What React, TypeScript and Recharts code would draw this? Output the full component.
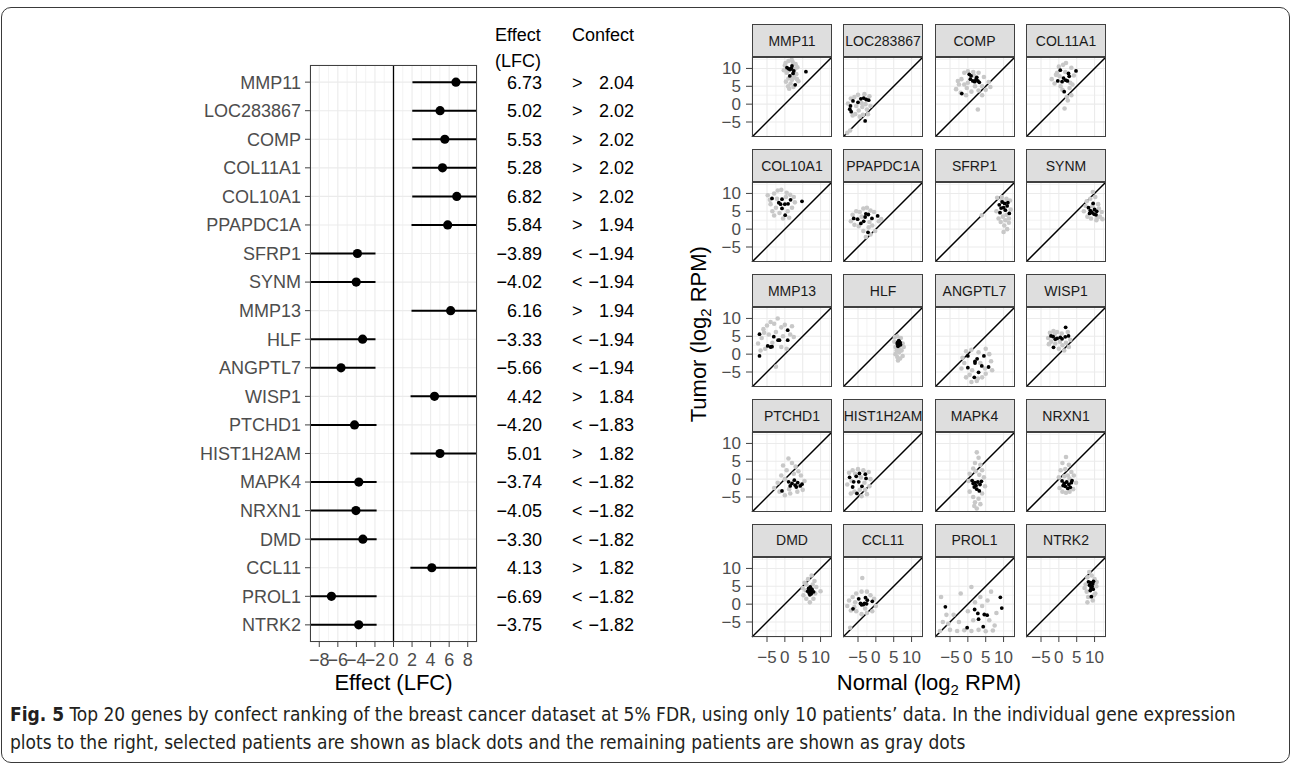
import React from 'react';
import {
  ScatterChart,
  Scatter,
  XAxis,
  YAxis,
  CartesianGrid,
  ReferenceLine,
} from 'recharts';

const FONT = '"Liberation Sans", Arial, Helvetica, sans-serif';
const AXIS_GREY = '#4d4d4d';
const BORDER = '#404040';

// forest plot: effect and confect per gene
const genes = [
  'MMP11', 'LOC283867', 'COMP', 'COL11A1', 'COL10A1', 'PPAPDC1A', 'SFRP1', 'SYNM', 'MMP13', 'HLF',
  'ANGPTL7', 'WISP1', 'PTCHD1', 'HIST1H2AM', 'MAPK4', 'NRXN1', 'DMD', 'CCL11', 'PROL1', 'NTRK2',
];
const effects = [
  6.73, 5.02, 5.53, 5.28, 6.82, 5.84, -3.89, -4.02, 6.16, -3.33,
  -5.66, 4.42, -4.2, 5.01, -3.74, -4.05, -3.3, 4.13, -6.69, -3.75,
];
const confects = [
  2.04, 2.02, 2.02, 2.02, 2.02, 1.94, -1.94, -1.94, 1.94, -1.94,
  -1.94, 1.84, -1.83, 1.82, -1.82, -1.82, -1.82, 1.82, -1.82, -1.82,
];
const effectTicks = [-8, -6, -4, -2, 0, 2, 4, 6, 8];
const effectMinorTicks = [-9, -7, -5, -3, -1, 1, 3, 5, 7, 9];
const EFFECT_LIM = 9;

// expression panels (normal vs tumor, log2 RPM)
const rpmTicks = [-5, 0, 5, 10];
const rpmMinorTicks = [-7.5, -2.5, 2.5, 7.5, 12.5];
const RPM_MIN = -9.2;
const RPM_MAX = 13.2;

type Pt = [number, number];

const mmp11Black: Pt[] = [[0.6, 10.2], [1.5, 9.7], [2.0, 10.7], [2.5, 9.3], [1.4, 7.9], [5.9, 9.1], [2.9, 5.4], [1.8, 10.0], [1.1, 9.9], [2.3, 8.6]];
const mmp11Gray: Pt[] = [[0.2, 11.5], [1.0, 12.1], [2.2, 11.8], [3.0, 11.2], [0.0, 10.8], [3.5, 10.3], [-0.3, 9.5], [0.5, 8.8], [3.2, 8.4], [1.0, 7.2], [2.0, 6.8], [2.6, 7.5], [0.3, 6.3], [1.6, 5.8], [2.4, 4.8], [1.2, 4.3], [3.8, 6.4], [0.8, 9.2], [2.8, 9.9], [1.9, 12.4], [0.9, 5.0], [3.4, 7.0]];
const loc283867Black: Pt[] = [[-6.4, 0.9], [-7.1, -0.5], [-6.9, -2.1], [-4.2, 1.5], [-3.4, 1.7], [-2.7, 1.3], [-2.0, 1.1], [-7.3, -1.4], [-3.0, -4.7], [-5.0, 0.5]];
const loc283867Gray: Pt[] = [[-7.8, 0.2], [-6.0, 2.0], [-5.5, -0.5], [-4.8, -1.8], [-3.8, -0.8], [-2.5, -1.5], [-1.8, 2.2], [-3.2, 2.8], [-5.8, -2.8], [-4.5, -3.5], [-3.6, -3.0], [-6.5, -3.2], [-2.2, -2.8], [-4.0, 0.3], [-1.5, -0.5], [-7.0, 1.6], [-8.0, -8.0], [-7.2, -7.4], [-5.0, 2.6], [-2.9, 0.0]];
const compBlack: Pt[] = [[0.4, 8.35], [1.4, 6.5], [2.3, 7.0], [2.8, 6.5], [-1.7, 2.95], [0.9, 7.9], [1.9, 6.3], [3.2, 6.1], [0.7, 7.0], [2.5, 7.5]];
const compGray: Pt[] = [[-3.3, 4.2], [-2.5, 5.5], [-1.8, 7.0], [-1.0, 8.8], [0.0, 9.2], [1.5, 9.0], [3.0, 8.8], [4.5, 7.6], [5.8, 6.2], [6.3, 4.8], [4.0, 5.0], [3.0, 3.8], [1.0, 3.5], [-0.5, 2.5], [-2.0, 3.2], [-1.0, 5.5], [0.0, 6.0], [2.0, 5.0], [4.0, 2.5], [5.0, 4.0], [2.8, -1.5], [-0.3, 4.5], [1.7, 8.0], [-2.8, 6.5]];
const col11a1Black: Pt[] = [[0.4, 9.5], [2.7, 8.6], [4.8, 9.3], [-0.3, 6.5], [1.9, 6.7], [2.4, 6.5], [1.5, 3.5], [2.9, 7.8], [0.9, 6.3], [1.3, 7.3]];
const col11a1Gray: Pt[] = [[-2.0, 7.0], [-0.8, 8.2], [0.0, 10.5], [1.2, 11.0], [2.0, 11.5], [3.5, 10.2], [4.2, 8.0], [3.8, 5.5], [3.0, 4.5], [0.5, 5.0], [-0.5, 8.8], [1.0, 4.0], [2.2, 2.0], [3.5, 2.5], [2.5, 1.0], [1.6, -1.2], [0.2, 7.8], [3.2, 6.0], [-1.2, 5.8], [1.8, 9.0]];
const col10a1Black: Pt[] = [[-3.6, 8.6], [-1.7, 7.4], [-0.8, 8.4], [0.0, 7.0], [4.8, 7.8], [-0.8, 5.8], [0.1, 3.9], [-1.2, 7.0], [0.9, 7.1], [1.6, 8.2]];
const col10a1Gray: Pt[] = [[-4.8, 9.5], [-4.0, 7.0], [-3.0, 10.0], [-2.0, 10.8], [-1.0, 11.0], [0.5, 10.2], [1.5, 9.6], [2.5, 9.0], [-2.5, 6.0], [-3.5, 5.0], [-1.5, 4.5], [0.8, 5.0], [2.0, 6.0], [-0.5, 3.0], [1.2, 3.2], [2.8, 7.5], [-2.2, 8.5], [-4.2, 8.2], [0.3, 9.0], [-3.0, 3.8]];
const ppapdc1aBlack: Pt[] = [[-6.2, 3.0], [-5.1, 2.8], [-4.2, 1.6], [-3.4, 2.2], [-2.8, 4.3], [-2.1, 4.1], [-1.1, 3.0], [0.5, 3.7], [-2.2, -0.9], [-3.0, 3.4]];
const ppapdc1aGray: Pt[] = [[-7.0, 2.2], [-6.5, 4.0], [-5.5, 5.0], [-4.5, 4.8], [-3.5, 5.8], [-2.5, 6.0], [-1.5, 5.2], [-0.5, 4.8], [0.8, 2.2], [1.5, 2.8], [-1.0, 1.0], [-2.0, 0.5], [-3.5, -0.5], [-1.5, -1.5], [-2.8, -2.2], [-4.8, 0.8], [-6.0, 1.2], [-4.0, 3.5], [-0.2, -0.5], [-1.8, 2.0]];
const sfrp1Black: Pt[] = [[8.8, 6.8], [9.6, 7.6], [10.3, 7.2], [11.0, 6.5], [9.3, 5.9], [10.5, 5.3], [9.0, 4.6], [11.6, 4.4], [10.0, 6.0], [11.2, 7.4]];
const sfrp1Gray: Pt[] = [[8.2, 8.8], [9.5, 9.0], [10.8, 8.5], [11.8, 8.0], [8.0, 5.0], [9.8, 3.5], [10.5, 2.5], [11.5, 3.0], [9.2, 2.0], [10.2, 1.0], [11.0, 0.0], [10.0, -0.8], [8.6, 3.0], [12.0, 5.5], [3.9, 3.9], [9.5, 8.0], [10.8, 4.0], [11.5, 1.8]];
const synmBlack: Pt[] = [[8.3, 6.0], [8.8, 5.2], [9.3, 4.6], [9.9, 4.2], [10.4, 4.0], [10.6, 5.0], [9.6, 7.2], [9.0, 4.9], [10.0, 5.5], [8.6, 4.4]];
const synmGray: Pt[] = [[9.5, 10.4], [8.8, 8.5], [10.2, 9.0], [7.5, 6.5], [7.0, 5.0], [11.0, 7.0], [11.5, 3.5], [12.2, 2.8], [10.5, 2.5], [9.0, 3.0], [8.0, 3.5], [11.2, 5.8], [7.8, 7.8], [10.8, 3.2], [9.4, 6.4], [12.0, 4.8]];
const mmp13Black: Pt[] = [[-7.1, 5.6], [-7.1, -0.5], [-4.8, 2.3], [-4.0, 2.0], [-3.1, 4.9], [-1.9, 3.9], [-1.5, 3.9], [0.8, 6.7], [0.8, 3.9], [-3.6, 2.1]];
const mmp13Gray: Pt[] = [[-7.5, 3.0], [-6.5, 4.5], [-6.0, 7.0], [-5.0, 8.0], [-4.0, 9.0], [-3.0, 8.5], [-2.0, 10.0], [-1.0, 7.5], [0.0, 8.2], [1.5, 5.5], [2.5, 4.8], [-5.5, 1.5], [-4.5, 5.5], [-2.5, 6.2], [-1.0, 2.0], [0.5, 1.5], [-6.8, 1.0], [-3.5, 3.2], [-2.5, -3.5], [2.0, 7.8], [-5.8, 6.0], [-0.5, 5.0]];
const hlfBlack: Pt[] = [[6.1, 3.3], [6.4, 3.0], [6.7, 2.7], [6.3, 2.5], [6.6, 3.5], [6.0, 2.9], [6.8, 3.2], [6.4, 3.8], [6.2, 2.2], [6.9, 2.6]];
const hlfGray: Pt[] = [[5.3, 4.8], [6.0, 5.0], [7.0, 4.5], [7.5, 3.0], [5.5, 2.0], [5.8, 1.0], [6.5, 0.5], [7.2, 1.0], [5.5, 0.0], [6.0, -0.8], [6.8, -1.2], [7.5, -0.5], [6.2, -1.8], [7.8, 2.0], [5.2, 3.5], [6.6, 1.5]];
const angptl7Black: Pt[] = [[0.0, -0.5], [2.0, -2.0], [2.0, -2.5], [4.5, -0.5], [3.9, -3.3], [5.8, -3.6], [3.0, -5.1], [1.8, -6.5], [0.0, -3.8], [2.6, -1.3]];
const angptl7Gray: Pt[] = [[-1.5, -1.0], [-0.5, 0.8], [1.0, 1.2], [3.0, 0.5], [5.0, 1.5], [6.0, 0.0], [6.5, -2.0], [6.8, -4.5], [5.0, -5.5], [4.0, -6.5], [2.5, -7.5], [1.0, -7.8], [-0.5, -6.5], [-1.8, -4.0], [1.2, -4.5], [3.5, -2.5], [-1.0, -2.5], [4.8, -4.0], [0.5, -5.8], [2.8, -6.8]];
const wisp1Black: Pt[] = [[-2.2, 5.1], [-1.0, 4.2], [0.4, 4.7], [1.8, 4.85], [2.7, 5.1], [1.9, 7.5], [-1.5, 1.9], [-1.6, 4.9], [-0.5, 4.4], [0.9, 4.3]];
const wisp1Gray: Pt[] = [[-3.0, 4.5], [-2.5, 6.0], [-1.5, 6.5], [-0.5, 6.2], [0.8, 5.8], [2.5, 6.2], [3.2, 4.0], [2.0, 3.2], [1.0, 2.5], [0.0, 1.5], [-1.0, 3.0], [-2.2, 3.5], [-2.8, 2.8], [0.3, 3.5], [2.8, 2.0], [1.5, 1.0], [-1.2, 5.5]];
const ptchd1Black: Pt[] = [[-0.8, -3.3], [1.05, -0.75], [2.0, -1.2], [2.9, -1.7], [3.6, -1.0], [4.3, -1.9], [2.65, -0.3], [1.5, -1.9], [4.8, -1.4], [3.2, -2.2]];
const ptchd1Gray: Pt[] = [[1.0, 5.8], [2.0, 4.5], [3.0, 3.5], [0.5, 2.5], [-1.0, 1.0], [-2.0, -1.0], [-3.0, -2.5], [-1.5, -3.5], [0.0, -4.5], [1.5, -4.0], [3.5, -3.5], [5.0, -3.0], [5.5, -0.5], [4.5, 1.0], [2.5, 1.5], [0.0, 0.0], [1.2, -2.8], [3.8, 2.2], [-0.5, 3.8]];
const hist1h2amBlack: Pt[] = [[-7.35, 0.5], [-6.2, -0.75], [-6.5, -2.2], [-4.6, 1.6], [-3.9, -2.0], [-2.95, 1.4], [-2.75, 0.2], [-5.3, -4.0], [-4.8, -0.75], [-5.5, 0.8]];
const hist1h2amGray: Pt[] = [[-8.0, -1.5], [-7.5, 1.8], [-6.5, 2.5], [-5.0, 2.8], [-3.5, 2.5], [-2.0, 2.0], [-1.5, 0.0], [-1.8, -2.0], [-3.0, -3.0], [-4.5, -3.0], [-6.0, -3.5], [-7.0, -4.0], [-4.0, -4.8], [-3.2, -1.0], [-6.8, -0.5], [-5.8, 1.5], [-2.5, -4.2], [-4.2, 0.5]];
const mapk4Black: Pt[] = [[1.2, -0.4], [2.0, -1.0], [2.8, -0.8], [3.4, -1.5], [1.8, -2.2], [2.5, -2.8], [3.2, -3.3], [1.5, -1.2], [3.8, -0.6], [2.3, -1.8]];
const mapk4Gray: Pt[] = [[2.5, 7.5], [3.0, 6.0], [2.0, 4.5], [3.5, 4.0], [1.5, 3.0], [4.0, 2.5], [0.5, 1.5], [4.5, 0.5], [0.2, -0.5], [4.8, -2.0], [0.5, -3.5], [4.0, -4.0], [1.5, -5.0], [3.0, -5.5], [2.0, -6.5], [3.5, -7.0], [2.5, -8.2], [1.8, -7.5], [3.2, 1.2], [2.2, 2.2]];
const nrxn1Black: Pt[] = [[0.9, -0.5], [1.5, -1.2], [2.2, -0.8], [2.8, -1.5], [3.5, -1.0], [1.8, -2.0], [2.5, -2.6], [3.2, -2.3], [1.2, -1.8], [3.7, -0.4]];
const nrxn1Gray: Pt[] = [[2.0, 6.2], [1.0, 4.5], [2.8, 4.0], [0.5, 2.5], [1.8, 2.8], [3.5, 2.0], [4.2, 1.0], [0.0, 0.5], [4.8, -1.0], [0.2, -2.5], [4.0, -2.8], [1.0, -3.5], [2.0, -3.8], [3.0, -3.5], [2.5, 1.0], [1.5, 0.8], [3.0, 0.2]];
const dmdBlack: Pt[] = [[6.65, 4.4], [7.3, 3.6], [8.05, 3.45], [7.0, 2.6], [6.4, 3.6], [7.1, 4.8], [7.6, 4.2], [6.8, 3.1], [7.4, 2.9], [6.9, 4.0]];
const dmdGray: Pt[] = [[5.5, 6.0], [6.5, 7.0], [7.5, 8.0], [8.3, 6.5], [5.0, 4.5], [5.2, 2.5], [6.0, 1.5], [7.0, 0.5], [8.0, 1.5], [8.5, 3.0], [10.0, 3.6], [6.0, 5.5], [7.8, 5.5], [5.8, 3.8], [8.8, 4.8]];
const ccl11Black: Pt[] = [[-6.4, -1.3], [-4.8, 1.5], [-4.3, 0.2], [-3.5, -0.1], [-2.9, 1.8], [-2.6, 0.1], [-1.0, 0.8], [-3.2, 0.2], [-2.4, 1.1], [-4.0, -0.2]];
const ccl11Gray: Pt[] = [[-8.0, -0.5], [-7.5, 1.0], [-6.5, 2.0], [-5.5, 3.0], [-4.0, 3.5], [-2.5, 3.5], [-1.5, 2.5], [-0.5, 1.5], [0.0, -0.5], [-1.0, -2.0], [-2.5, -2.5], [-4.0, -2.8], [-5.5, -2.0], [-7.0, -1.8], [-3.8, 7.3], [-7.2, -6.6], [-5.8, 0.5], [-3.0, -1.2], [-6.0, -0.8]];
const prol1Black: Pt[] = [[-6.3, -0.75], [-0.2, -6.6], [1.9, -1.5], [2.8, -2.6], [4.6, -2.9], [5.4, -3.1], [3.0, -4.2], [4.3, -6.3], [9.1, 1.9], [9.5, -1.1]];
const prol1Gray: Pt[] = [[-7.5, 2.0], [-6.0, -3.0], [-7.0, -5.0], [-7.8, -7.5], [-5.0, -7.2], [-3.0, -7.5], [-1.0, -7.3], [1.0, -7.5], [3.0, -7.2], [5.0, -7.6], [7.0, -7.4], [-4.0, -3.0], [-2.0, 3.0], [0.0, -2.0], [1.0, 4.8], [2.0, 0.5], [3.5, 2.0], [4.0, -0.5], [5.5, 1.0], [6.0, -4.5], [7.5, -6.0], [8.0, -2.5], [6.5, 3.5], [-2.5, -5.0], [1.5, -4.5], [-5.5, -5.5]];
const ntrk2Black: Pt[] = [[8.3, 6.25], [9.7, 6.4], [9.3, 5.0], [8.6, 5.3], [8.8, 3.8], [9.1, 2.1], [9.5, 5.7], [9.0, 4.5], [8.9, 6.0], [9.6, 4.2]];
const ntrk2Gray: Pt[] = [[8.5, 9.0], [9.2, 8.0], [8.0, 7.5], [10.0, 7.0], [7.5, 5.5], [10.5, 5.0], [7.8, 3.5], [10.2, 3.0], [8.2, 2.0], [9.5, 1.0], [8.0, 0.5], [10.6, 6.2], [7.2, 4.5], [9.8, 2.5]];

const facetBlack = [
  mmp11Black, loc283867Black, compBlack, col11a1Black, col10a1Black, ppapdc1aBlack, sfrp1Black, synmBlack,
  mmp13Black, hlfBlack, angptl7Black, wisp1Black, ptchd1Black, hist1h2amBlack, mapk4Black, nrxn1Black,
  dmdBlack, ccl11Black, prol1Black, ntrk2Black,
];
const facetGray = [
  mmp11Gray, loc283867Gray, compGray, col11a1Gray, col10a1Gray, ppapdc1aGray, sfrp1Gray, synmGray,
  mmp13Gray, hlfGray, angptl7Gray, wisp1Gray, ptchd1Gray, hist1h2amGray, mapk4Gray, nrxn1Gray,
  dmdGray, ccl11Gray, prol1Gray, ntrk2Gray,
];

// layout of the facet grid
const COL_X = [752, 843, 934.5, 1026];
const ROW_Y = [24.3, 149.3, 274.3, 399, 523.5];
const STRIP_H = 33;
const PANEL = 80;

const withMinus = (v: number | string) => String(v).replace('-', '\u2212');
const toXY = (pts: Pt[]) => pts.map(([x, y]) => ({ x, y }));

const dot = (r: number, fill: string) => (p: any) => (
  <circle cx={p.cx} cy={p.cy} r={r} fill={fill} />
);

/** effect / confect columns, drawn as ticks of a right-hand axis */
function TableTick(props: any) {
  const { x, y, payload } = props;
  const i = payload.value - 1;
  const e = effects[i];
  const c = confects[i];
  const style = { fontFamily: FONT, fontSize: 18, fill: '#000' };
  return (
    <g>
      <text x={x + 65} y={y} dy="0.355em" textAnchor="end" style={style}>
        {withMinus(e.toFixed(2))}
      </text>
      <text x={x + 95} y={y} dy="0.355em" textAnchor="start" style={style}>
        {c > 0 ? '>' : '<'}
      </text>
      <text x={x + 157} y={y} dy="0.355em" textAnchor="end" style={style}>
        {withMinus(c.toFixed(2))}
      </text>
    </g>
  );
}

function ForestPlot() {
  const rowTicks = genes.map((_, i) => i + 1);
  const points = genes.map((_, i) => ({ x: effects[i], y: i + 1 }));
  const tickStyle = { fill: AXIS_GREY, fontSize: 18, fontFamily: FONT };

  return (
    <div style={{ position: 'absolute', left: 0, top: 0 }}>
      <ScatterChart width={660} height={720} margin={{ top: 65, right: 0, bottom: 0, left: 0 }}>
        <CartesianGrid xAxisId="minor" horizontal={false} stroke="#ebebeb" strokeWidth={0.6} />
        <CartesianGrid stroke="#ebebeb" strokeWidth={1.1} />
        <XAxis
          type="number"
          dataKey="x"
          domain={[-EFFECT_LIM, EFFECT_LIM]}
          ticks={effectTicks}
          interval={0}
          allowDataOverflow
          height={78}
          tickSize={5}
          tickMargin={6}
          axisLine={false}
          tickLine={{ stroke: BORDER }}
          tick={tickStyle}
          tickFormatter={withMinus}
        />
        <XAxis
          xAxisId="minor"
          type="number"
          dataKey="x"
          domain={[-EFFECT_LIM, EFFECT_LIM]}
          ticks={effectMinorTicks}
          allowDataOverflow
          hide
        />
        <YAxis
          type="number"
          dataKey="y"
          domain={[0.4, 20.6]}
          reversed
          ticks={rowTicks}
          interval={0}
          allowDataOverflow
          width={310}
          tickSize={5}
          tickMargin={4}
          axisLine={false}
          tickLine={{ stroke: BORDER }}
          tick={tickStyle}
          tickFormatter={(v: number) => genes[v - 1]}
        />
        <YAxis
          yAxisId="table"
          orientation="right"
          type="number"
          domain={[0.4, 20.6]}
          reversed
          ticks={rowTicks}
          interval={0}
          allowDataOverflow
          width={183}
          tickSize={0}
          tickMargin={0}
          axisLine={false}
          tickLine={false}
          tick={<TableTick />}
        />
        <ReferenceLine x={0} stroke="#000" strokeWidth={1.3} />
        {genes.map((g, i) => {
          const lo = confects[i] < 0 ? -EFFECT_LIM : confects[i];
          const hi = confects[i] < 0 ? confects[i] : EFFECT_LIM;
          return (
            <Scatter
              key={g}
              data={[{ x: lo, y: i + 1 }, { x: hi, y: i + 1 }]}
              line={{ stroke: '#000', strokeWidth: 2 }}
              shape={() => <g />}
              isAnimationActive={false}
            />
          );
        })}
        <Scatter data={points} fill="#000" shape={dot(4.6, '#000')} isAnimationActive={false} />
      </ScatterChart>
      {/* panel border */}
      <div
        style={{
          position: 'absolute', left: 310, top: 65, width: 167, height: 577,
          border: `1.5px solid ${BORDER}`, boxSizing: 'border-box',
        }}
      />
    </div>
  );
}

function Facet({ idx }: { idx: number }) {
  const r = Math.floor(idx / 4);
  const c = idx % 4;
  const x0 = COL_X[c];
  const y0 = ROW_Y[r];
  const yw = c === 0 ? 40 : 0;
  const xh = r === 4 ? 40 : 0;
  const tickStyle = { fill: AXIS_GREY, fontSize: 17, fontFamily: FONT };

  return (
    <>
      <div
        style={{
          position: 'absolute', left: x0, top: y0, width: PANEL, height: STRIP_H,
          background: '#dedede', border: `1.5px solid ${BORDER}`, boxSizing: 'border-box',
          display: 'flex', alignItems: 'center', justifyContent: 'center',
          fontFamily: FONT, fontSize: 14, color: '#1a1a1a', whiteSpace: 'nowrap', overflow: 'hidden',
        }}
      >
        {genes[idx]}
      </div>
      <div style={{ position: 'absolute', left: x0 - yw, top: y0 + STRIP_H }}>
        <ScatterChart width={PANEL + yw} height={PANEL + xh} margin={{ top: 0, right: 0, bottom: 0, left: 0 }}>
          <CartesianGrid xAxisId="m" yAxisId="m" stroke="#ebebeb" strokeWidth={0.6} />
          <CartesianGrid stroke="#ebebeb" strokeWidth={1.1} />
          <XAxis
            type="number"
            dataKey="x"
            domain={[RPM_MIN, RPM_MAX]}
            ticks={rpmTicks}
            interval={0}
            allowDataOverflow
            hide={r !== 4}
            height={xh}
            tickSize={5}
            tickMargin={9}
            axisLine={false}
            tickLine={{ stroke: BORDER }}
            tick={tickStyle}
            tickFormatter={withMinus}
          />
          <YAxis
            type="number"
            dataKey="y"
            domain={[RPM_MIN, RPM_MAX]}
            ticks={rpmTicks}
            interval={0}
            allowDataOverflow
            hide={c !== 0}
            width={yw}
            tickSize={6}
            tickMargin={5}
            axisLine={false}
            tickLine={{ stroke: BORDER }}
            tick={tickStyle}
            tickFormatter={withMinus}
          />
          <XAxis xAxisId="m" type="number" dataKey="x" domain={[RPM_MIN, RPM_MAX]} ticks={rpmMinorTicks} allowDataOverflow hide />
          <YAxis yAxisId="m" type="number" dataKey="y" domain={[RPM_MIN, RPM_MAX]} ticks={rpmMinorTicks} allowDataOverflow hide />
          <ReferenceLine
            segment={[{ x: RPM_MIN, y: RPM_MIN }, { x: RPM_MAX, y: RPM_MAX }]}
            stroke="#000"
            strokeWidth={1.5}
          />
          <Scatter data={toXY(facetGray[idx])} shape={dot(2.3, '#c8c8c8')} isAnimationActive={false} />
          <Scatter data={toXY(facetBlack[idx])} shape={dot(1.9, '#000')} isAnimationActive={false} />
        </ScatterChart>
      </div>
      <div
        style={{
          position: 'absolute', left: x0, top: y0 + STRIP_H, width: PANEL, height: PANEL,
          border: `1.5px solid ${BORDER}`, boxSizing: 'border-box',
        }}
      />
    </>
  );
}

export default function App() {
  const title = { position: 'absolute' as const, fontFamily: FONT, fontSize: 22, color: '#000', whiteSpace: 'nowrap' as const };
  const header = { position: 'absolute' as const, fontFamily: FONT, fontSize: 18, lineHeight: '26px', color: '#000' };

  return (
    <div
      style={{
        position: 'absolute', left: 0, top: 0, width: 1292, height: 765,
        background: '#fff', overflow: 'hidden',
      }}
    >
      <div
        style={{
          position: 'absolute', left: 1, top: 7, width: 1289, height: 756,
          border: '1.5px solid #3a3a3a', borderRadius: 10, boxSizing: 'border-box',
        }}
      />
      <ForestPlot />
      <div style={{ ...header, left: 495, top: 21.5 }}>
        Effect
        <br />
        (LFC)
      </div>
      <div style={{ ...header, left: 572, top: 21.5 }}>Confect</div>
      <div style={{ ...title, left: 293.5, width: 200, textAlign: 'center', top: 670 }}>Effect (LFC)</div>

      {genes.map((g, i) => (
        <Facet key={g} idx={i} />
      ))}
      <div style={{ ...title, left: 829, width: 200, textAlign: 'center', top: 670 }}>
        Normal (log<sub style={{ fontSize: 15 }}>2</sub> RPM)
      </div>
      <div
        style={{
          ...title, left: 600, width: 200, textAlign: 'center', top: 320,
          transform: 'rotate(-90deg)',
        }}
      >
        Tumor (log<sub style={{ fontSize: 15 }}>2</sub> RPM)
      </div>

      <div
        style={{
          position: 'absolute', left: 10, top: 700, width: 1270,
          fontFamily: '"Liberation Sans Narrow", "DejaVu Sans Condensed", sans-serif',
          fontSize: 19, lineHeight: '28px', color: '#231f20', whiteSpace: 'nowrap',
        }}
      >
        <span style={{ fontWeight: 'bold' }}>Fig. 5</span>
        {' Top 20 genes by confect ranking of the breast cancer dataset at 5% FDR, using only 10 patients’ data. In the individual gene expression'}
        <br />
        plots to the right, selected patients are shown as black dots and the remaining patients are shown as gray dots
      </div>
    </div>
  );
}
